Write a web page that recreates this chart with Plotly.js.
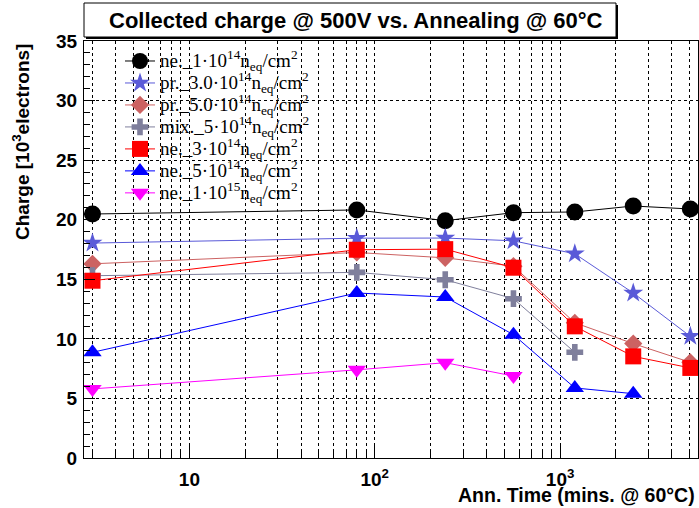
<!DOCTYPE html>
<html>
<head>
<meta charset="utf-8">
<script src="https://cdn.plot.ly/plotly-3.0.1.min.js"></script>
<style>
  html, body { margin: 0; padding: 0; background: #fff; }
  #chart { width: 699px; height: 508px; }
</style>
</head>
<body>
<div id="chart"></div>
<script>
// Annealing steps (cumulative minutes at 60°C)
const annTime = [3, 80, 240, 560, 1200, 2480, 5040];

// Collected charge at 500 V, in 10^3 electrons
const ne_1e14  = [20.48, 20.82, 19.92, 20.59, 20.65, 21.15, 20.90];
const pr_3e14  = [18.04, 18.45, 18.46, 18.23, 17.14, 13.85, 10.21];
const pr_5e14  = [16.30, 17.25, 16.80, 16.10, 11.35, 9.60, 8.03];
const mix_5e14 = [15.30, 15.58, 14.96, 13.37, 8.87];
const ne_3e14  = [14.88, 17.48, 17.53, 15.97, 11.05, 8.53, 7.56];
const ne_5e14  = [8.87, 13.85, 13.51, 10.35, 5.88, 5.40];
const ne_1e15  = [5.80, 7.40, 8.00, 6.88];

const seriesNames = [
  'ne._1·10<sup>14</sup>n<sub>eq</sub>/cm<sup>2</sup>',
  'pr._3.0·10<sup>14</sup>n<sub>eq</sub>/cm<sup>2</sup>',
  'pr._5.0·10<sup>14</sup>n<sub>eq</sub>/cm<sup>2</sup>',
  'mix._5·10<sup>14</sup>n<sub>eq</sub>/cm<sup>2</sup>',
  'ne._3·10<sup>14</sup>n<sub>eq</sub>/cm<sup>2</sup>',
  'ne._5·10<sup>14</sup>n<sub>eq</sub>/cm<sup>2</sup>',
  'ne._1·10<sup>15</sup>n<sub>eq</sub>/cm<sup>2</sup>'
];
const seriesValues = [ne_1e14, pr_3e14, pr_5e14, mix_5e14, ne_3e14, ne_5e14, ne_1e15];

const xTickVals = [10, 100, 1000];
const xTickText = ['10', '10<sup>2</sup>', '10<sup>3</sup>'];
const yTickVals = [0, 5, 10, 15, 20, 25, 30, 35];
const yTickText = ['0', '5', '10', '15', '20', '25', '30', '35'];

const styles = [
  { color: '#000000', symbol: 'circle',        size: 17 },
  { color: '#5a5ad8', symbol: 'star',          size: 15 },
  { color: '#cc6262', symbol: 'diamond',       size: 14 },
  { color: '#7f7f9c', symbol: 'cross',         size: 14 },
  { color: '#ff0000', symbol: 'square',        size: 16 },
  { color: '#0000ff', symbol: 'triangle-up',   size: 16 },
  { color: '#ff00ff', symbol: 'triangle-down', size: 16 }
];

const bold = s => '<b>' + s + '</b>';

const traces = seriesValues.map((vals, i) => ({
  type: 'scatter',
  mode: 'lines+markers',
  name: '<span style="font-size:19px">' + seriesNames[i] + '</span>',
  x: annTime.slice(0, vals.length),
  y: vals,
  line: { color: styles[i].color, width: 1 },
  marker: { color: styles[i].color, symbol: styles[i].symbol, size: styles[i].size,
            line: { width: 0 } },
  hoverinfo: 'x+y'
}));

// plot frame: left 84, right 698, top 41, bottom 458
const L = 84, R = 698, T = 41, B = 458;
const px = v => (v - L) / (R - L);
const py = v => (B - v) / (B - T);

const sans = 'Liberation Sans, Arial, Helvetica, sans-serif';

const layout = {
  width: 699, height: 508,
  margin: { l: L, r: 699 - R, t: T, b: 508 - B, pad: 0 },
  paper_bgcolor: '#ffffff',
  plot_bgcolor: '#ffffff',
  showlegend: true,
  legend: {
    x: px(120), y: py(45), xanchor: 'left', yanchor: 'top',
    bgcolor: 'rgba(0,0,0,0)', borderwidth: 0,
    font: { family: 'Liberation Serif, Times New Roman, serif', size: 14.6, color: '#000' },
    itemwidth: 30, tracegroupgap: 0, itemsizing: 'trace'
  },
  xaxis: {
    type: 'log',
    range: [Math.log10(2.7), Math.log10(5544)],
    tickvals: xTickVals, ticktext: xTickText.map(bold),
    ticks: 'inside', ticklen: 12, tickwidth: 1, tickcolor: '#000',
    showline: true, linecolor: '#000', linewidth: 1, mirror: true,
    showgrid: true, gridcolor: '#000', gridwidth: 1, griddash: 'dot',
    zeroline: false,
    tickfont: { family: sans, size: 19, color: '#000' },
    ticklabelstandoff: 4,
    minor: {
      dtick: 'D1', ticks: 'inside', ticklen: 6, tickcolor: '#000',
      showgrid: true, gridcolor: '#000', gridwidth: 1, griddash: 'dot'
    }
  },
  yaxis: {
    range: [0, 35],
    tickvals: yTickVals, ticktext: yTickText.map(bold),
    ticks: 'inside', ticklen: 11, tickwidth: 1, tickcolor: '#000',
    showline: true, linecolor: '#000', linewidth: 1, mirror: true,
    showgrid: true, gridcolor: '#000', gridwidth: 1, griddash: 'dot',
    zeroline: false,
    tickfont: { family: sans, size: 19, color: '#000' },
    ticklabelstandoff: 2,
    minor: { dtick: 1, ticks: 'inside', ticklen: 6, tickcolor: '#000', showgrid: false }
  },
  shapes: [
    // title box shadow
    { type: 'rect', xref: 'paper', yref: 'paper',
      x0: px(86), x1: px(618), y0: py(39), y1: py(5),
      fillcolor: '#000', line: { width: 0 }, layer: 'above' },
    // title box
    { type: 'rect', xref: 'paper', yref: 'paper',
      x0: px(84), x1: px(616), y0: py(37), y1: py(3),
      fillcolor: '#fff', line: { color: '#000', width: 1 }, layer: 'above' }
  ],
  annotations: [
    { text: bold('Collected charge @ 500V vs. Annealing @ 60°C'),
      xref: 'paper', yref: 'paper', x: px(356), y: py(20),
      xanchor: 'center', yanchor: 'middle', showarrow: false,
      font: { family: sans, size: 22, color: '#000' } },
    { text: bold('Charge [10<sup>3</sup>electrons]'),
      xref: 'paper', yref: 'paper', x: px(21), y: py(142),
      xanchor: 'center', yanchor: 'middle', textangle: -90, showarrow: false,
      font: { family: sans, size: 19, color: '#000' } },
    { text: bold('Ann. Time (mins. @ 60°C)'),
      xref: 'paper', yref: 'paper', x: px(697), y: py(495),
      xanchor: 'right', yanchor: 'middle', showarrow: false,
      font: { family: sans, size: 19.5, color: '#000' } }
  ]
};

Plotly.newPlot('chart', traces, layout, { displayModeBar: false, staticPlot: true });
</script>
</body>
</html>
